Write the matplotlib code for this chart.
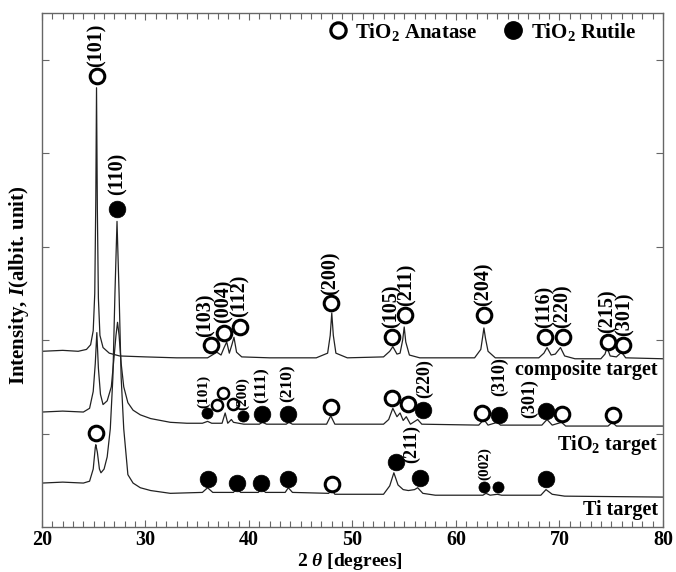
import matplotlib
matplotlib.use('Agg')
import matplotlib.pyplot as plt
from matplotlib.lines import Line2D
from matplotlib.ticker import MultipleLocator

matplotlib.rcParams['font.family'] = 'Liberation Serif'
matplotlib.rcParams['font.weight'] = 'bold'
matplotlib.rcParams['font.size'] = 14.5
matplotlib.rcParams['mathtext.fontset'] = 'custom'
matplotlib.rcParams['mathtext.rm'] = 'Liberation Serif:bold'
matplotlib.rcParams['mathtext.bf'] = 'Liberation Serif:bold'
matplotlib.rcParams['mathtext.it'] = 'Liberation Serif:bold:italic'

# ---- XRD patterns (2theta, intensity offset per sample) ----
comp_x = [20.0, 22.0, 23.5, 24.3, 24.7, 24.95, 25.1, 25.2, 25.27, 25.35, 25.45, 25.6, 25.9, 26.5,
          27.5, 30.0, 33.0, 36.0, 36.9, 37.3, 37.6, 37.85, 38.1, 38.35, 38.55, 38.8, 39.3, 42.0,
          46.5, 47.6, 47.85, 48.0, 48.15, 48.4, 49.5, 53.0, 53.6, 53.9, 54.3, 54.6, 54.85, 55.0,
          55.15, 55.5, 56.5, 61.8, 62.4, 62.6, 62.7, 62.85, 63.1, 63.8, 68.0, 68.5, 68.8, 69.2,
          69.6, 70.1, 70.5, 71.5, 74.0, 74.4, 74.6, 74.9, 75.5, 76.0, 76.4, 80.0]
comp_y = [1.88, 1.89, 1.88, 1.90, 1.95, 2.10, 2.50, 3.50, 4.70, 3.40, 2.45, 2.05, 1.92, 1.86,
          1.83, 1.82, 1.81, 1.81, 1.87, 1.84, 1.92, 1.98, 1.86, 1.95, 2.03, 1.87, 1.82, 1.81,
          1.81, 1.86, 2.05, 2.29, 2.05, 1.86, 1.81, 1.82, 1.88, 1.93, 1.85, 1.86, 2.00, 2.14,
          1.98, 1.84, 1.81, 1.81, 1.90, 2.05, 2.13, 2.02, 1.88, 1.81, 1.81, 1.86, 1.92, 1.84,
          1.85, 1.92, 1.83, 1.80, 1.80, 1.85, 1.92, 1.83, 1.82, 1.87, 1.81, 1.80]

tio2_x = [20.0, 22.0, 24.0, 24.6, 24.95, 25.15, 25.3, 25.45, 25.65, 25.9, 26.3, 26.7, 26.95,
          27.15, 27.3, 27.45, 27.65, 27.9, 28.3, 28.8, 29.5, 30.5, 32.4, 34.0, 35.5, 36.0, 36.4,
          37.4, 37.7, 37.95, 38.3, 38.5, 39.5, 41.0, 41.3, 41.7, 43.6, 43.85, 44.2, 47.5, 47.9,
          48.3, 53.0, 53.5, 53.9, 54.3, 54.6, 54.9, 55.2, 55.6, 56.3, 56.7, 62.2, 62.7, 63.1,
          64.0, 64.3, 68.3, 68.8, 69.3, 70.2, 70.6, 74.7, 75.1, 75.5, 80.0]
tio2_y = [1.23, 1.24, 1.23, 1.27, 1.45, 1.75, 2.08, 1.70, 1.42, 1.31, 1.35, 1.50, 1.80,
          2.05, 2.19, 2.05, 1.75, 1.50, 1.33, 1.25, 1.20, 1.16, 1.12, 1.11, 1.11, 1.13, 1.11,
          1.11, 1.22, 1.11, 1.15, 1.12, 1.10, 1.10, 1.12, 1.10, 1.10, 1.12, 1.10, 1.10, 1.19,
          1.10, 1.10, 1.15, 1.27, 1.18, 1.22, 1.14, 1.18, 1.10, 1.15, 1.10, 1.09, 1.15, 1.09,
          1.12, 1.09, 1.09, 1.15, 1.09, 1.12, 1.08, 1.08, 1.12, 1.08, 1.08]

ti_x = [20.0, 22.0, 24.0, 24.6, 24.95, 25.15, 25.2, 25.35, 25.55, 25.7, 26.0, 26.3, 26.6,
        26.85, 27.05, 27.25, 27.45, 27.65, 27.9, 28.3, 28.8, 29.5, 30.5, 32.4, 35.5, 36.0,
        36.5, 38.5, 38.8, 39.2, 40.9, 41.2, 41.6, 43.5, 43.8, 44.2, 47.7, 48.0, 48.3, 53.0,
        53.6, 54.0, 54.4, 54.9, 55.4, 56.0, 56.3, 56.8, 58.0, 62.6, 62.9, 63.3, 64.0, 64.4,
        68.2, 68.7, 69.3, 70.5, 80.0]
ti_y = [0.47, 0.48, 0.47, 0.49, 0.62, 0.85, 0.88, 0.80, 0.62, 0.58, 0.62, 0.75, 1.05,
        1.60, 2.50, 3.27, 2.50, 1.60, 1.05, 0.56, 0.47, 0.42, 0.39, 0.36, 0.37, 0.42,
        0.37, 0.37, 0.41, 0.37, 0.37, 0.41, 0.37, 0.37, 0.42, 0.37, 0.36, 0.40, 0.35, 0.35,
        0.44, 0.58, 0.45, 0.40, 0.39, 0.40, 0.42, 0.36, 0.34, 0.34, 0.36, 0.34, 0.35, 0.34,
        0.34, 0.40, 0.35, 0.33, 0.32]

# ---- phase markers ----
anatase_x = [25.27, 36.33, 37.58, 39.13, 47.92, 53.8, 55.07, 62.7, 68.6, 70.3, 74.7, 76.1,
             47.9, 53.8, 55.4, 62.5, 70.2, 75.2, 25.2, 48.0]
anatase_y = [4.83, 1.95, 2.08, 2.14, 2.40, 2.03, 2.27, 2.27, 2.03, 2.03, 1.98, 1.95,
             1.28, 1.38, 1.32, 1.22, 1.21, 1.20, 1.01, 0.46]
anatase_small_x = [36.9, 37.5, 38.45]
anatase_small_y = [1.30, 1.43, 1.32]

rutile_x = [27.25, 41.26, 43.77, 56.8, 64.15, 68.7,
            36.04, 38.84, 41.16, 43.77, 54.2, 56.52, 68.7]
rutile_y = [3.40, 1.21, 1.21, 1.25, 1.20, 1.24,
            0.51, 0.47, 0.47, 0.51, 0.70, 0.52, 0.51]
rutile_small_x = [35.94, 39.42, 62.7, 64.06]
rutile_small_y = [1.22, 1.19, 0.43, 0.43]

# ---- Miller index labels (anchored on a marker) ----
hkl_text = ['(101)', '(110)', '(103)', '(004)', '(112)', '(200)', '(105)', '(211)', '(204)',
            '(116)', '(220)', '(215)', '(301)',
            '(101)', '(200)', '(111)', '(210)', '(220)', '(310)', '(301)',
            '(211)', '(002)']
hkl_x = [25.27, 27.25, 36.33, 37.58, 39.13, 47.92, 53.8, 55.07, 62.7, 68.6, 70.3, 74.7, 76.1,
         35.94, 39.42, 41.26, 43.77, 56.8, 64.15, 68.7,
         54.2, 62.7]
hkl_y = [4.83, 3.40, 1.95, 2.08, 2.14, 2.40, 2.03, 2.27, 2.27, 2.03, 2.03, 1.98, 1.95,
         1.22, 1.19, 1.21, 1.21, 1.25, 1.20, 1.24,
         0.70, 0.43]
# label style: (dx px, dy px, fontsize, va)
hkl_style = [(0, 9, 14.5, 'bottom'), (1, 14, 14.5, 'bottom'), (-5, 8, 14.5, 'bottom'),
             (0, 10, 14.5, 'bottom'), (0, 10, 14.5, 'bottom'), (0, 8, 14.5, 'bottom'),
             (0, 9, 14.5, 'bottom'), (2, 9, 14.5, 'bottom'), (0, 9, 14.5, 'bottom'),
             (0, 9, 14.5, 'bottom'), (0, 9, 14.5, 'bottom'), (0, 9, 14.5, 'bottom'),
             (2, 9, 14.5, 'bottom'),
             (-3, 5, 11, 'bottom'), (0, 6, 11, 'bottom'), (0, 11, 12.5, 'bottom'),
             (0, 12, 12.5, 'bottom'), (2, 12, 13, 'bottom'), (1, 19, 13, 'bottom'),
             (-16, 13, 13, 'center'),
             (16, -1, 13, 'bottom'), (1, 7, 11, 'bottom')]

sample_names = ['composite target', 'TiO$_\\mathrm{2}$ target', 'Ti target']
sample_y = [1.68, 0.88, 0.18]

fig = plt.figure(figsize=(6.76, 5.72), dpi=100)
ax = fig.add_axes([0.0621, 0.0787, 0.9186, 0.8986])

for x, y in [(comp_x, comp_y), (tio2_x, tio2_y), (ti_x, ti_y)]:
    ax.plot(x, y, color='#222222', linewidth=0.9)

ax.plot(anatase_x, anatase_y, 'o', ms=10.5, mfc='white', mec='black', mew=2.2, ls='none')
ax.plot(anatase_small_x, anatase_small_y, 'o', ms=8, mfc='white', mec='black', mew=1.8, ls='none')
ax.plot(rutile_x, rutile_y, 'o', ms=12, mfc='black', mec='black', mew=0.5, ls='none')
ax.plot(rutile_small_x, rutile_small_y, 'o', ms=8, mfc='black', mec='black', mew=0.5, ls='none')

for t, x, y, (dx, dy, fs, va) in zip(hkl_text, hkl_x, hkl_y, hkl_style):
    ax.annotate(t, xy=(x, y), xytext=(dx, dy), textcoords='offset pixels',
                rotation=90, ha='center', va=va, fontsize=fs, fontweight='bold')

for name, y in zip(sample_names, sample_y):
    ax.text(79.5, y, name, ha='right', va='center', fontsize=14.5, fontweight='bold')

# legend
handles = [Line2D([], [], marker='o', ls='none', ms=11, mfc='white', mec='black', mew=2.3),
           Line2D([], [], marker='o', ls='none', ms=12.5, mfc='black', mec='black')]
ax.legend(handles, ['TiO$_\\mathrm{2}$ Anatase', 'TiO$_\\mathrm{2}$ Rutile'], loc='upper right',
          bbox_to_anchor=(0.957, 0.985), ncol=2, frameon=False, fontsize=15,
          handlelength=1.0, handletextpad=0.35, columnspacing=1.2, borderpad=0, borderaxespad=0)

ax.set_xlim(20, 80)
ax.set_ylim(0, 5.5)
ax.set_xticks(range(20, 81, 10))
ax.xaxis.set_minor_locator(MultipleLocator(1))
ax.set_yticks([1, 2, 3, 4, 5])
ax.set_yticklabels([])
ax.tick_params(which='both', direction='in', top=True, right=True, color='#666666')
ax.tick_params(which='major', length=5, width=0.8, pad=2.5, labelsize=14.5)
ax.tick_params(which='minor', length=4, width=0.8)
for s in ax.spines.values():
    s.set_color('#666666')
    s.set_linewidth(1.0)

ax.set_xlabel('2 $\\theta$ [degrees]', fontsize=14, fontweight='bold')
ax.xaxis.set_label_coords(0.496, -0.0467)
ax.set_ylabel('Intensity, $I$(albit. unit)', fontsize=15, fontweight='bold')
ax.yaxis.set_label_coords(-0.017, 0.47)

fig.savefig('out.png', dpi=100)
